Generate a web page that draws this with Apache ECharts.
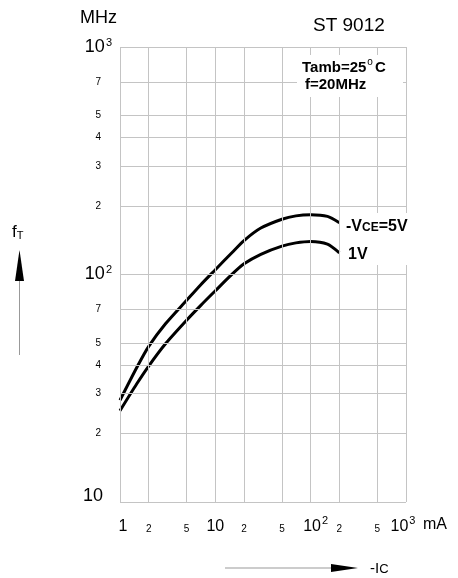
<!DOCTYPE html>
<html><head><meta charset="utf-8">
<script src="https://cdn.jsdelivr.net/npm/echarts@6/dist/echarts.min.js"></script>
<style>html,body{margin:0;padding:0;background:#fff}#c{width:458px;height:578px}</style>
</head><body><div id="c"></div>
<script>
const icValues = [1, 1.5, 2, 3, 5, 7, 10, 15, 20, 30, 50, 70, 100, 150, 200];
const ft5V = [28, 39, 48.3, 60.7, 77, 90, 105, 125, 141, 160, 175, 181, 183, 180, 169];
const ft1V = [25.2, 33.1, 39.6, 49.6, 63, 73, 84.8, 100.3, 111.4, 122.7, 133.2, 137.7, 139.8, 136, 124.6];
const xTicks = [1, 2, 5, 10, 20, 50, 100, 200, 500, 1000];
const xTickLabels = ['1', '2', '5', '10', '2', '5', '10^2', '2', '5', '10^3'];
const yTicks = [10, 20, 30, 40, 50, 70, 100, 200, 300, 400, 500, 700, 1000];
const yTickLabels = ['10', '2', '3', '4', '5', '7', '10^2', '2', '3', '4', '5', '7', '10^3'];

const FONT = '"Liberation Sans", Arial, sans-serif';
function fmt(t) {
  if (t.indexOf('^') >= 0) { const p = t.split('^'); return '{big|' + p[0] + '}{sup|' + p[1] + '}'; }
  if (t.length > 1 || t === '1') return '{big|' + t + '}';
  return '{sm|' + t + '}';
}
const richX = {
  big: {fontSize: 16, fontFamily: FONT, color: '#000', lineHeight: 20, verticalAlign: 'bottom'},
  sm: {fontSize: 10, fontFamily: FONT, color: '#000', lineHeight: 20, verticalAlign: 'bottom', padding: [0, 0, 1, 0]},
  sup: {fontSize: 11, fontFamily: FONT, color: '#000', lineHeight: 20, verticalAlign: 'top', padding: [0, 0, 0, 1]}
};
const richY = {
  big: {fontSize: 18, fontFamily: FONT, color: '#000', lineHeight: 20},
  sm: {fontSize: 10, fontFamily: FONT, color: '#000', lineHeight: 20},
  sup: {fontSize: 11, fontFamily: FONT, color: '#000', lineHeight: 20, verticalAlign: 'top', padding: [0, 0, 8, 1]}
};
const gridData = [];
xTicks.forEach((v, i) => {
  const t = xTickLabels[i];
  gridData.push({xAxis: v, label: {show: true, position: 'start', distance: 13, formatter: fmt(t), rich: richX,
    offset: t === '10^2' ? [5, 0] : (t === '10^3' ? [-3, 0] : (t === '1' ? [3, 0] : [0, 0]))}});
});
yTicks.forEach((v, i) => {
  const t = yTickLabels[i];
  const isBig = t.length > 1;
  gridData.push({yAxis: v, label: {show: true, position: 'start', distance: isBig ? (t === '10' ? 17 : 8) : 19,
    formatter: fmt(t), rich: richY, offset: t === '10' ? [0, -6] : [0, 0]}});
});

const chart = echarts.init(document.getElementById('c'), null, {renderer: 'canvas'});
chart.setOption({
  animation: false,
  backgroundColor: '#fff',
  grid: {left: 120, top: 47, width: 286, height: 455},
  xAxis: {type: 'log', logBase: 10, min: 1, max: 1000, axisLabel: {show: false}, axisTick: {show: false},
    axisLine: {show: false}, splitLine: {show: false}},
  yAxis: {type: 'log', logBase: 10, min: 10, max: 1000, axisLabel: {show: false}, axisTick: {show: false},
    axisLine: {show: false}, splitLine: {show: false}},
  series: [
    {type: 'line', data: [], z: 1, silent: true,
      markLine: {silent: true, symbol: ['none', 'none'], animation: false,
        lineStyle: {color: '#c4c4c4', width: 1, type: 'solid'}, emphasis: {disabled: true},
        data: gridData}},
    {type: 'line', name: '5V', data: icValues.map((x, i) => [x, ft5V[i]]), smooth: 0.25, showSymbol: false,
      lineStyle: {color: '#000', width: 3, join: 'round'}, z: 3},
    {type: 'line', name: '1V', data: icValues.map((x, i) => [x, ft1V[i]]), smooth: 0.25, showSymbol: false,
      lineStyle: {color: '#000', width: 3, join: 'round'}, z: 3}
  ],
  graphic: [
    {type: 'text', left: 80, top: 9, z: 60, style: {text: 'MHz', font: '18px ' + FONT, fill: '#000'}},
    {type: 'text', left: 313, top: 16, z: 60, style: {text: 'ST 9012', font: '19px ' + FONT, fill: '#000'}},
    {type: 'rect', shape: {x: 297, y: 55, width: 106, height: 42}, z: 50, style: {fill: '#fff'}},
    {type: 'text', x: 302, y: 57, z: 60, style: {text: '{b|Tamb=25}{sup|o}{b|C}', rich: {
      b: {fontSize: 15, fontWeight: 'bold', fontFamily: FONT, fill: '#000', lineHeight: 18, verticalAlign: 'bottom'},
      sup: {fontSize: 10, fontFamily: FONT, fill: '#000', lineHeight: 18, verticalAlign: 'top', padding: [0, 2, 0, 1]}}}},
    {type: 'text', x: 305, y: 77, z: 60, style: {text: 'f=20MHz', font: 'bold 15px ' + FONT, fill: '#000'}},
    {type: 'rect', shape: {x: 343, y: 213, width: 76, height: 52}, z: 50, style: {fill: '#fff'}},
    {type: 'text', x: 346, y: 216, z: 60, style: {text: '{b|-V}{s|CE}{b|=5V}', rich: {
      b: {fontSize: 16, fontWeight: 'bold', fontFamily: FONT, fill: '#000', lineHeight: 19, verticalAlign: 'bottom'},
      s: {fontSize: 12, fontWeight: 'bold', fontFamily: FONT, fill: '#000', lineHeight: 19, verticalAlign: 'bottom', padding: [0, 0, 1, 0]}}}},
    {type: 'text', x: 348, y: 247, z: 60, style: {text: '1V', font: 'bold 16px ' + FONT, fill: '#000'}},
    {type: 'text', x: 12, y: 221, z: 60, style: {text: '{f|f}{t|T}', rich: {
      f: {fontSize: 17, fontFamily: FONT, fill: '#000', lineHeight: 20, verticalAlign: 'bottom'},
      t: {fontSize: 11, fontFamily: FONT, fill: '#000', lineHeight: 20, verticalAlign: 'bottom'}}}},
    {type: 'polygon', shape: {points: [[19.5, 250], [15, 281], [24, 281]]}, z: 60, style: {fill: '#000'}},
    {type: 'line', shape: {x1: 19.5, y1: 281, x2: 19.5, y2: 355}, z: 60, style: {stroke: '#999', lineWidth: 1}},
    {type: 'line', shape: {x1: 225, y1: 568, x2: 333, y2: 568}, z: 60, style: {stroke: '#999', lineWidth: 1}},
    {type: 'polygon', shape: {points: [[358, 568], [331, 564], [331, 572]]}, z: 60, style: {fill: '#000'}},
    {type: 'text', x: 370, y: 558, z: 60, style: {text: '{a|-I}{c|C}', rich: {
      a: {fontSize: 15, fontFamily: FONT, fill: '#000', lineHeight: 18, verticalAlign: 'bottom'},
      c: {fontSize: 13, fontFamily: FONT, fill: '#000', lineHeight: 18, verticalAlign: 'bottom'}}}},
    {type: 'text', x: 423, y: 517, z: 60, style: {text: 'mA', font: '16px ' + FONT, fill: '#000'}}
  ]
});
</script></body></html>
